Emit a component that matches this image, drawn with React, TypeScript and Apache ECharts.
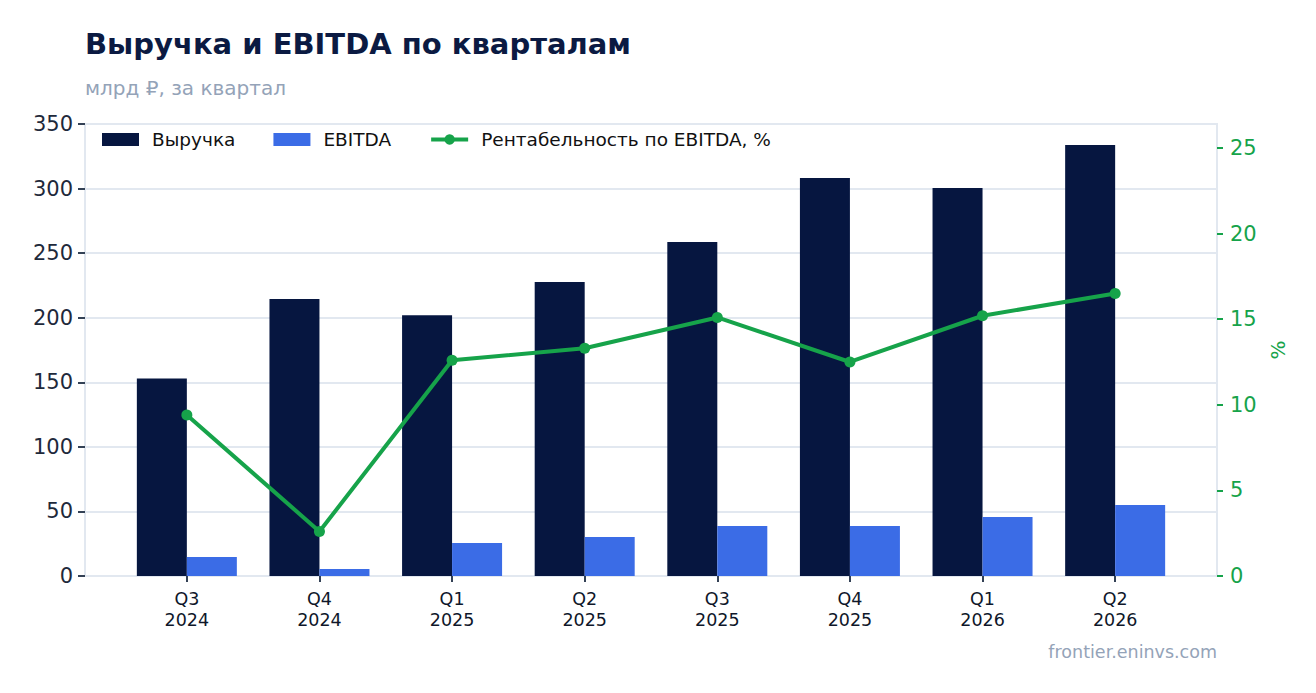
import React, { useEffect, useRef } from "react";
import * as echarts from "echarts";

const categories = ["Q3\n2024", "Q4\n2024", "Q1\n2025", "Q2\n2025", "Q3\n2025", "Q4\n2025", "Q1\n2026", "Q2\n2026"];
const revenue = [153, 214.5, 202, 227.7, 258.6, 308.2, 300.4, 333.7];
const ebitda = [14.7, 5.4, 25.5, 30.2, 38.7, 38.7, 45.7, 55];
const margin = [9.4, 2.6, 12.6, 13.3, 15.1, 12.5, 15.2, 16.5];
const leftTicks = [0, 50, 100, 150, 200, 250, 300, 350];
const rightTicks = [0, 5, 10, 15, 20, 25];

const FONT = "DejaVu Sans";

export default function App() {
  const ref = useRef<HTMLDivElement>(null);
  useEffect(() => {
    document.body.style.margin = "0";
    if (!ref.current) return;
    const chart = echarts.init(ref.current, null, { renderer: "svg" });
    const idx = categories.map((_, i) => i);
    chart.setOption({
      animation: false,
      backgroundColor: "#ffffff",
      textStyle: { fontFamily: FONT },
      title: [
        {
          text: "Выручка и EBITDA по кварталам",
          left: 85,
          top: 29,
          padding: 0,
          textStyle: { fontFamily: FONT, fontSize: 29, fontWeight: "bold", color: "#0b1a42" },
        },
        {
          text: "млрд ₽, за квартал",
          left: 85,
          top: 78,
          padding: 0,
          textStyle: { fontFamily: FONT, fontSize: 20, fontWeight: "normal", color: "#94a3b8" },
        },
        {
          text: "frontier.eninvs.com",
          right: 99,
          top: 643,
          padding: 0,
          textStyle: { fontFamily: FONT, fontSize: 17.5, fontWeight: "normal", color: "#94a3b8" },
        },
      ],
      legend: {
        left: 97,
        top: 125,
        itemWidth: 37,
        itemHeight: 13,
        itemGap: 38,
        textStyle: { fontFamily: FONT, fontSize: 18.5, color: "#111111", padding: [0, 0, 0, 8] },
        data: [
          { name: "Выручка", icon: "rect" },
          { name: "EBITDA", icon: "rect" },
          { name: "Рентабельность по EBITDA, %", lineStyle: { width: 4 } },
        ],
      },
      grid: {
        left: 85,
        right: 99,
        top: 124,
        bottom: 117,
        show: true,
        borderColor: "#e2e8f0",
        borderWidth: 2,
        backgroundColor: "transparent",
      },
      xAxis: {
        type: "value",
        min: -0.768,
        max: 7.768,
        axisLine: { show: true, onZero: false, lineStyle: { color: "#e2e8f0", width: 2 } },
        splitLine: { show: false },
        axisTick: { show: true, length: 6, lineStyle: { color: "#334155", width: 2 }, customValues: idx },
        axisLabel: {
          customValues: idx,
          formatter: (v: number) => categories[Math.round(v)] ?? "",
          fontFamily: FONT,
          fontSize: 17.5,
          lineHeight: 21,
          color: "#0f172a",
          margin: 12,
        },
      },
      yAxis: [
        {
          type: "value",
          min: 0,
          max: 350,
          position: "left",
          axisLine: { show: true, onZero: false, lineStyle: { color: "#e2e8f0", width: 2 } },
          axisTick: { show: true, length: 7, lineStyle: { color: "#334155", width: 2 }, customValues: leftTicks },
          axisLabel: { customValues: leftTicks, fontFamily: FONT, fontSize: 21, color: "#1e293b", margin: 12 },
          splitLine: { show: true, lineStyle: { color: "#e2e8f0", width: 2 } },
        },
        {
          type: "value",
          min: 0,
          max: 26.4,
          position: "right",
          name: "%",
          nameLocation: "middle",
          nameRotate: 90,
          nameGap: 48,
          nameTextStyle: { fontFamily: FONT, fontSize: 20, color: "#16a34a" },
          axisLine: { show: true, onZero: false, lineStyle: { color: "#e2e8f0", width: 2 } },
          axisTick: { show: true, length: 6, lineStyle: { color: "#16a34a", width: 2 }, customValues: rightTicks },
          axisLabel: { customValues: rightTicks, fontFamily: FONT, fontSize: 21, color: "#16a34a", margin: 13 },
          splitLine: { show: false },
        },
      ],
      series: [
        {
          name: "Выручка",
          type: "bar",
          yAxisIndex: 0,
          barWidth: 50,
          barGap: "0%",
          itemStyle: { color: "#061640" },
          data: revenue.map((v, i) => [i, v]),
        },
        {
          name: "EBITDA",
          type: "bar",
          yAxisIndex: 0,
          barWidth: 50,
          barGap: "0%",
          itemStyle: { color: "#3b6ce6" },
          data: ebitda.map((v, i) => [i, v]),
        },
        {
          name: "Рентабельность по EBITDA, %",
          type: "line",
          yAxisIndex: 1,
          symbol: "circle",
          symbolSize: 11,
          lineStyle: { color: "#16a34a", width: 4 },
          itemStyle: { color: "#16a34a" },
          data: margin.map((v, i) => [i, v]),
          z: 5,
        },
      ],
    });
    return () => chart.dispose();
  }, []);
  return <div ref={ref} style={{ width: 1316, height: 693 }} />;
}
